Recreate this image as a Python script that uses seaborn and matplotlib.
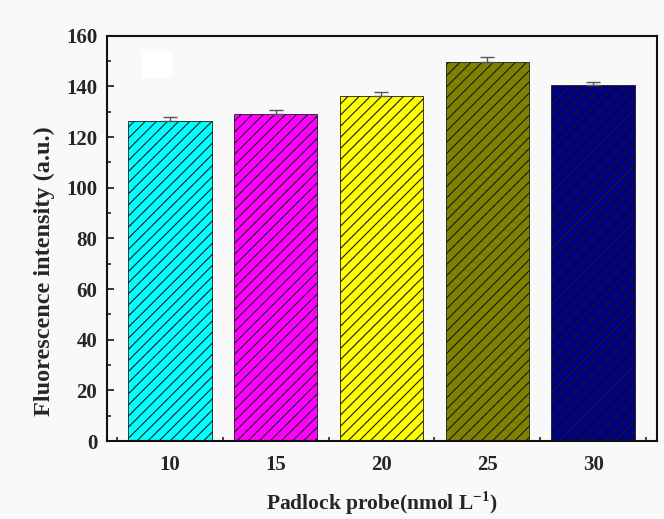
import numpy as np
import pandas as pd
import matplotlib
matplotlib.use('Agg')
import matplotlib.pyplot as plt
from matplotlib.patches import FancyBboxPatch
from matplotlib.ticker import MultipleLocator, FixedLocator
import seaborn as sns

# Data
probe_conc = ['10', '15', '20', '25', '30']
intensity = [126.5, 129.2, 136.2, 149.6, 140.6]
err = [1.4, 1.6, 1.6, 2.2, 1.2]
bar_colors = ['#00FFFF', '#FF00FF', '#FFFF00', '#808000', '#000080']

df = pd.DataFrame({'conc': probe_conc, 'intensity': intensity})

sns.set_style('ticks')
plt.rcParams['font.family'] = ['Liberation Serif', 'DejaVu Serif']
plt.rcParams['font.weight'] = 'bold'
plt.rcParams['mathtext.fontset'] = 'custom'
plt.rcParams['mathtext.rm'] = 'Liberation Serif:bold'
plt.rcParams['mathtext.bf'] = 'Liberation Serif:bold'
plt.rcParams['hatch.linewidth'] = 0.8

bg = '#f9f9f9'
fig = plt.figure(figsize=(6.64, 5.19), dpi=100, facecolor=bg)
ax = fig.add_axes([0.161, 0.150, 0.828, 0.781], facecolor=bg)

sns.barplot(data=df, x='conc', y='intensity', hue='conc', palette=bar_colors,
            legend=False, width=0.79, saturation=1, edgecolor='#1a1a1a',
            linewidth=0.6, errorbar=None, ax=ax)
for p in ax.patches:
    p.set_hatch('///')

xpos = np.arange(len(probe_conc))
ax.errorbar(xpos, intensity, yerr=[np.zeros(len(err)), err], fmt='none',
            ecolor='#555555', elinewidth=1.0, capsize=5, capthick=1.0)

# empty legend box remnant
ax.add_patch(FancyBboxPatch((0.068, 0.899), 0.047, 0.058,
                            boxstyle='round,pad=0.004', transform=ax.transAxes,
                            facecolor='white', edgecolor='none', zorder=5))

ax.set_xlim(-0.594, 4.6)
ax.set_ylim(0, 160)
ax.yaxis.set_major_locator(MultipleLocator(20))
ax.yaxis.set_minor_locator(MultipleLocator(10))
ax.xaxis.set_minor_locator(FixedLocator(np.arange(-0.5, 5, 1.0)))

ax.tick_params(axis='both', which='major', direction='in', length=5, width=1.3,
               labelsize=15, pad=7)
ax.tick_params(axis='both', which='minor', direction='in', length=3, width=1.2)
ax.tick_params(axis='x', which='major', pad=10)
for lab in ax.get_xticklabels() + ax.get_yticklabels():
    lab.set_fontweight('bold')

for side in ['left', 'right', 'top', 'bottom']:
    ax.spines[side].set_visible(True)
    ax.spines[side].set_linewidth(1.5)
    ax.spines[side].set_color('#111111')

ax.set_xlabel(r'Padlock probe(nmol L$^{\mathbf{-1}}$)', fontsize=15.5,
              fontweight='bold', labelpad=10)
ax.set_ylabel('Fluorescence intensity (a.u.)', fontsize=17.5,
              fontweight='bold')
ax.yaxis.set_label_coords(-0.095, 0.42)

fig.savefig('out.png', dpi=100, facecolor=bg)
